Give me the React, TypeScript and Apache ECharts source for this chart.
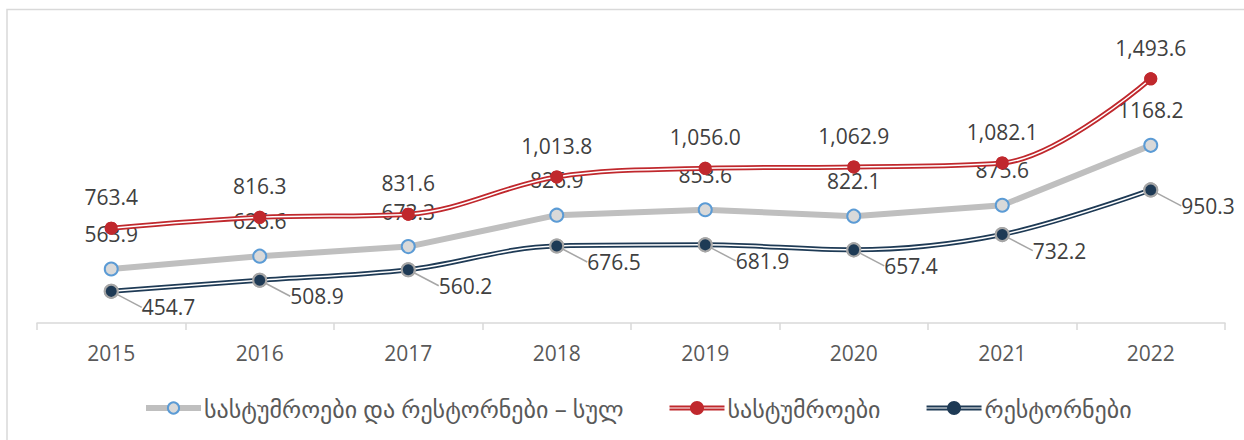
import React, { useEffect, useRef } from "react";
import * as echarts from "echarts";

const years = ["2015", "2016", "2017", "2018", "2019", "2020", "2021", "2022"];
const totalName = "სასტუმროები და რესტორნები – სულ";
const hotelsName = "სასტუმროები";
const restName = "რესტორნები";
const totalValues = [563.9, 626.6, 673.3, 826.9, 853.6, 822.1, 875.6, 1168.2];
const hotelValues = [763.4, 816.3, 831.6, 1013.8, 1056.0, 1062.9, 1082.1, 1493.6];
const restValues = [454.7, 508.9, 560.2, 676.5, 681.9, 657.4, 732.2, 950.3];

const FONT = "'Open Sans', 'DejaVu Sans', sans-serif";
const RED = "#c0282d";
const NAVY = "#1e3a55";
const SMOOTH = 0.35;

// legend icon: double line with a dot in the middle (55 x 14 box)
const DOUBLE_LINE_ICON =
  "path://M0,4.6 H55 V6.4 H0 Z M0,7.6 H55 V9.4 H0 Z M20.5,7 A7,7 0 1,1 34.5,7 A7,7 0 1,1 20.5,7 Z";

const fmtComma = (v: number) =>
  v.toLocaleString("en-US", { minimumFractionDigits: 1, maximumFractionDigits: 1 });
const fmtPlain = (v: number) => v.toFixed(1);

export default function App() {
  const ref = useRef<HTMLDivElement>(null);
  useEffect(() => {
    if (!ref.current) return;
    const chart = echarts.init(ref.current, null, { renderer: "svg" });
    const labelBase = { fontFamily: FONT, fontSize: 21, color: "#404040" };
    chart.setOption({
      animation: false,
      backgroundColor: "#ffffff",
      textStyle: { fontFamily: FONT },
      graphic: [
        {
          type: "rect",
          shape: { x: 7, y: 9.5, width: 1400, height: 600 },
          style: { fill: "none", stroke: "#d9d9d9", lineWidth: 1.5 },
          silent: true,
        },
      ],
      grid: { left: 37, right: 19, top: 57, bottom: 117, containLabel: false },
      legend: {
        top: 396,
        left: 143,
        padding: 0,
        data: [
          { name: totalName, lineStyle: { width: 6 } },
          {
            name: hotelsName,
            icon: DOUBLE_LINE_ICON,
            itemStyle: { color: RED, borderWidth: 0 },
          },
          {
            name: restName,
            icon: DOUBLE_LINE_ICON,
            itemStyle: { color: NAVY, borderWidth: 0, borderColor: NAVY },
          },
        ],
        itemWidth: 55,
        itemHeight: 14,
        itemGap: 46,
        textStyle: { fontFamily: FONT, fontSize: 24, color: "#595959", padding: [0, 0, 0, -2] },
      },
      xAxis: {
        type: "category",
        data: years,
        boundaryGap: true,
        axisLine: { lineStyle: { color: "#d9d9d9", width: 1.5 } },
        axisTick: { show: true, length: 7, lineStyle: { color: "#d9d9d9", width: 1.5 } },
        axisLabel: { fontFamily: FONT, fontSize: 21, color: "#595959", margin: 19 },
        splitLine: { show: false },
      },
      yAxis: {
        type: "value",
        min: 300,
        max: 1600,
        show: false,
        splitLine: { show: false },
      },
      series: [
        {
          name: totalName,
          type: "line",
          data: totalValues,
          smooth: false,
          z: 2,
          symbol: "circle",
          symbolSize: 13,
          lineStyle: { color: "#bfbfbf", width: 6 },
          itemStyle: { color: "#d9d9d9", borderColor: "#5b9bd5", borderWidth: 2 },
          label: {
            show: true,
            position: "top",
            distance: 17,
            formatter: (p: any) => fmtPlain(p.value),
            ...labelBase,
          },
        },
        {
          name: hotelsName,
          type: "line",
          data: hotelValues,
          smooth: SMOOTH,
          z: 3,
          symbol: "circle",
          symbolSize: 13,
          lineStyle: { color: RED, width: 5 },
          itemStyle: { color: RED, borderColor: RED, borderWidth: 0 },
        },
        {
          name: "hotels-inner",
          type: "line",
          data: hotelValues,
          smooth: SMOOTH,
          z: 4,
          symbol: "none",
          silent: true,
          lineStyle: { color: "#ffffff", width: 1.5 },
        },
        {
          name: "hotels-dots",
          type: "line",
          data: hotelValues,
          z: 5,
          symbol: "circle",
          symbolSize: 13,
          lineStyle: { width: 0, opacity: 0 },
          itemStyle: { color: RED, borderWidth: 0 },
          label: {
            show: true,
            position: "top",
            distance: 14,
            formatter: (p: any) => fmtComma(p.value),
            ...labelBase,
          },
        },
        {
          name: restName,
          type: "line",
          data: restValues,
          smooth: SMOOTH,
          z: 3,
          symbol: "circle",
          symbolSize: 13,
          lineStyle: { color: NAVY, width: 5 },
          itemStyle: { color: NAVY, borderColor: "#a6a6a6", borderWidth: 2 },
        },
        {
          name: "rest-inner",
          type: "line",
          data: restValues,
          smooth: SMOOTH,
          z: 4,
          symbol: "none",
          silent: true,
          lineStyle: { color: "#ffffff", width: 1.5 },
        },
        {
          name: "rest-dots",
          type: "line",
          data: restValues,
          z: 5,
          symbol: "circle",
          symbolSize: 13,
          lineStyle: { width: 0, opacity: 0 },
          itemStyle: { color: NAVY, borderColor: "#a6a6a6", borderWidth: 2 },
          label: {
            show: true,
            position: "right",
            distance: 5,
            formatter: (p: any) => fmtPlain(p.value),
            ...labelBase,
          },
          labelLayout: { dx: 18, dy: 16 },
          labelLine: { show: true, lineStyle: { color: "#a6a6a6", width: 1.5 } },
        },
      ],
    });
    return () => chart.dispose();
  }, []);
  return (
    <div
      ref={ref}
      style={{ position: "fixed", left: 0, top: 0, width: 1244, height: 440 }}
    />
  );
}
